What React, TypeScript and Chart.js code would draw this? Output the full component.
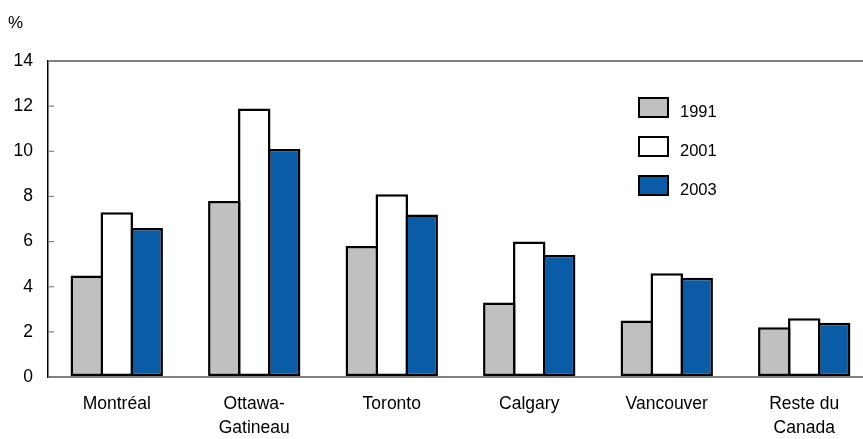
import React, { useEffect, useRef } from "react";
import { Chart, registerables } from "chart.js";

Chart.register(...registerables);

const categories: (string | string[])[] = [
  "Montréal",
  ["Ottawa-", "Gatineau"],
  "Toronto",
  "Calgary",
  "Vancouver",
  ["Reste du", "Canada"],
];
const seriesNames = ["1991", "2001", "2003"];
const values1991 = [4.5, 7.8, 5.8, 3.3, 2.5, 2.2];
const values2001 = [7.3, 11.9, 8.1, 6.0, 4.6, 2.6];
const values2003 = [6.6, 10.1, 7.2, 5.4, 4.4, 2.4];
const yTicks = [0, 2, 4, 6, 8, 10, 12, 14];

const colors = ["#c0c0c0", "#ffffff", "#0b5ca6"];
const FONT = "'Liberation Sans', Arial, sans-serif";

export default function App() {
  const ref = useRef<HTMLCanvasElement | null>(null);

  useEffect(() => {
    if (!ref.current) return;
    const series = [values1991, values2001, values2003];

    const decor = {
      id: "decor",
      afterDraw(chart: any) {
        const ctx = chart.ctx;
        const area = chart.chartArea;
        const y = chart.scales.y;
        ctx.save();
        // inward tick marks
        ctx.strokeStyle = "#808080";
        ctx.lineWidth = 1.2;
        y.ticks.forEach((t: any) => {
          const py = y.getPixelForValue(t.value);
          ctx.beginPath();
          ctx.moveTo(area.left, py);
          ctx.lineTo(area.left + 6, py);
          ctx.stroke();
        });
        // % label
        ctx.fillStyle = "#000";
        ctx.font = `17px ${FONT}`;
        ctx.textBaseline = "middle";
        ctx.textAlign = "left";
        ctx.fillText("%", 8, 23);
        // legend
        const lx = area.left + 591;
        const ly = area.top + 37;
        seriesNames.forEach((name, i) => {
          const top = ly + i * 39;
          ctx.fillStyle = colors[i];
          ctx.fillRect(lx, top, 29, 19);
          ctx.strokeStyle = "#000";
          ctx.lineWidth = 2;
          ctx.strokeRect(lx, top, 29, 19);
          ctx.fillStyle = "#000";
          ctx.font = `16.5px ${FONT}`;
          ctx.fillText(name, lx + 41, top + 14);
        });
        ctx.restore();
      },
    };

    const chart = new Chart(ref.current, {
      type: "bar",
      data: {
        labels: categories,
        datasets: series.map((data, i) => ({
          label: seriesNames[i],
          data,
          backgroundColor: colors[i],
          borderColor: "#000",
          borderWidth: 2.5,
          borderSkipped: false,
          barPercentage: 1.0835,
          categoryPercentage: 0.6535,
        })),
      },
      options: {
        animation: false,
        responsive: true,
        maintainAspectRatio: false,
        layout: { padding: { top: 61, left: 0, right: 0, bottom: 0 } },
        plugins: {
          legend: { display: false },
          tooltip: { enabled: false },
        },
        scales: {
          x: {
            grid: { display: false, drawTicks: false },
            border: { display: true, color: "#808080", width: 2 },
            ticks: {
              color: "#000",
              font: { family: FONT, size: 17.5, lineHeight: 1.33 },
              padding: 16,
              maxRotation: 0,
              autoSkip: false,
            },
            afterFit(scale: any) {
              scale.height = 62;
            },
          },
          y: {
            min: 0,
            max: 14,
            afterBuildTicks(scale: any) {
              scale.ticks = yTicks.map((v) => ({ value: v }));
            },
            grid: {
              drawTicks: false,
              color: (c: any) => (c.tick && c.tick.value === 14 ? "#808080" : "rgba(0,0,0,0)"),
              lineWidth: 2,
            },
            border: { display: true, color: "#000", width: 1.5 },
            ticks: {
              color: "#000",
              font: { family: FONT, size: 17.5 },
              padding: 15,
            },
            afterFit(scale: any) {
              scale.width = 48;
            },
          },
        },
      },
      plugins: [decor],
    });
    return () => chart.destroy();
  }, []);

  return (
    <div
      style={{
        position: "fixed",
        left: 0,
        top: 0,
        width: 863,
        height: 439,
        overflow: "hidden",
        background: "#fff",
      }}
    >
      <div style={{ position: "relative", width: 873, height: 439 }}>
        <canvas ref={ref} />
      </div>
    </div>
  );
}
